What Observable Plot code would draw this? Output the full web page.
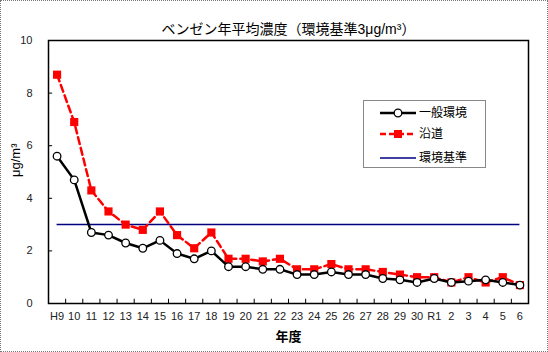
<!DOCTYPE html>
<html><head><meta charset="utf-8">
<script src="https://cdn.jsdelivr.net/npm/d3@7"></script>
<script src="https://cdn.jsdelivr.net/npm/@observablehq/plot@0.6"></script>
<style>
body{margin:0;padding:0;background:#fff;}
#wrap{position:relative;width:548px;height:352px;overflow:hidden;font-family:"Liberation Sans","Noto Sans CJK JP",sans-serif;}
#border{position:absolute;left:0;top:0;width:546px;height:350px;border:1px dotted #777;pointer-events:none;}
#legend{position:absolute;left:363px;top:100px;width:123px;height:68px;border:1px solid #888;background:#fff;box-sizing:border-box;}
</style></head>
<body><div id="wrap"><div id="border"></div></div>
<script>
const years = ["H9","10","11","12","13","14","15","16","17","18","19","20","21","22","23","24","25","26","27","28","29","30","R1","2","3","4","5","6"];
const general = [5.6,4.7,2.7,2.6,2.3,2.1,2.4,1.9,1.7,2.0,1.4,1.4,1.3,1.3,1.1,1.1,1.2,1.1,1.1,0.95,0.9,0.8,0.95,0.8,0.85,0.9,0.8,0.7];
const roadside = [8.7,6.9,4.3,3.5,3.0,2.8,3.5,2.6,2.1,2.7,1.7,1.7,1.6,1.7,1.3,1.3,1.5,1.3,1.3,1.2,1.1,1.0,1.0,0.8,1.0,0.8,1.0,0.7];
const standard = 3;
const yTicks = [0,2,4,6,8,10];
const seriesNames = ["一般環境","沿道","環境基準"];
const title = "ベンゼン年平均濃度（環境基準3μg/m³）";

const idx = d3.range(years.length);
const gen = idx.map(i => ({i, v: general[i]}));
const road = idx.map(i => ({i, v: roadside[i]}));
const bounds = d3.range(years.length - 1).map(i => i + 0.5);
const x0 = -0.5, x1 = years.length - 0.5;

const chart = Plot.plot({
  width: 548, height: 352,
  marginLeft: 48, marginRight: 20, marginTop: 40, marginBottom: 49,
  style: {fontFamily: '"Liberation Sans","Noto Sans CJK JP",sans-serif', fontSize: "11px", color: "#000", background: "transparent"},
  x: {type: "linear", domain: [x0, x1]},
  y: {domain: [0, 10]},
  marks: [
    Plot.axisX({ticks: idx, tickFormat: i => years[i], tickSize: 0, tickPadding: 9, label: null, fontSize: 11, fill: "#222"}),
    Plot.axisY({ticks: yTicks, tickSize: 0, tickPadding: 16, label: null, fontSize: 11, fill: "#222"}),
    Plot.ruleX(bounds, {x: d => d, y1: 0, y2: 0.16, stroke: "#000", strokeWidth: 1}),
    Plot.ruleY(yTicks, {y: d => d, x1: x0, x2: x0 + 0.24, stroke: "#000", strokeWidth: 1}),
    Plot.ruleY([standard], {x1: 0, x2: years.length - 1, stroke: "#000080", strokeWidth: 1.5}),
    Plot.line(road, {x: "i", y: "v", stroke: "#ff0000", strokeWidth: 2.5, strokeDasharray: "7,4"}),
    Plot.dot(road, {x: "i", y: "v", symbol: "square", r: 4.6, fill: "#ff0000", stroke: "none"}),
    Plot.line(gen, {x: "i", y: "v", stroke: "#000", strokeWidth: 2.5}),
    Plot.dot(gen, {x: "i", y: "v", r: 3.8, fill: "#fff", stroke: "#000", strokeWidth: 1.3}),
    Plot.frame({stroke: "#000", strokeWidth: 1.5}),
    Plot.text([title], {frameAnchor: "top", dy: -16, fontSize: 14, fill: "#000"}),
    Plot.text(["年度"], {frameAnchor: "bottom", dy: 37, fontSize: 13, fontWeight: "bold", fill: "#000"}),
    Plot.text(["μg/m³"], {frameAnchor: "left", dx: -33, dy: 5, rotate: -90, fontSize: 13, fill: "#000"})
  ]
});
const wrap = document.getElementById("wrap");
chart.style.position = "absolute"; chart.style.left = "0"; chart.style.top = "0";
wrap.insertBefore(chart, wrap.firstChild);

// legend
const leg = document.createElement("div");
leg.id = "legend";
const svg = d3.create("svg").attr("width", 121).attr("height", 66)
  .style("font-family", '"Liberation Sans","Noto Sans CJK JP",sans-serif').style("font-size", "12px");
const rows = [
  {name: seriesNames[0], y: 12, stroke: "#000", dash: null, w: 2.5, marker: "circle"},
  {name: seriesNames[1], y: 33, stroke: "#ff0000", dash: "6,3", w: 2.5, marker: "square"},
  {name: seriesNames[2], y: 57, stroke: "#000080", dash: null, w: 1.5, marker: null}
];
for (const r of rows) {
  const g = svg.append("g");
  g.append("line").attr("x1", 16).attr("x2", 52).attr("y1", r.y).attr("y2", r.y)
    .attr("stroke", r.stroke).attr("stroke-width", r.w).attr("stroke-dasharray", r.dash);
  if (r.marker === "circle") g.append("circle").attr("cx", 34).attr("cy", r.y).attr("r", 3.8).attr("fill", "#fff").attr("stroke", "#000").attr("stroke-width", 1.3);
  if (r.marker === "square") g.append("rect").attr("x", 30).attr("y", r.y - 4).attr("width", 8).attr("height", 8).attr("fill", "#ff0000");
  g.append("text").attr("x", 55).attr("y", r.y).attr("dy", "0.35em").text(r.name);
}
leg.appendChild(svg.node());
wrap.appendChild(leg);
</script>
</body></html>
